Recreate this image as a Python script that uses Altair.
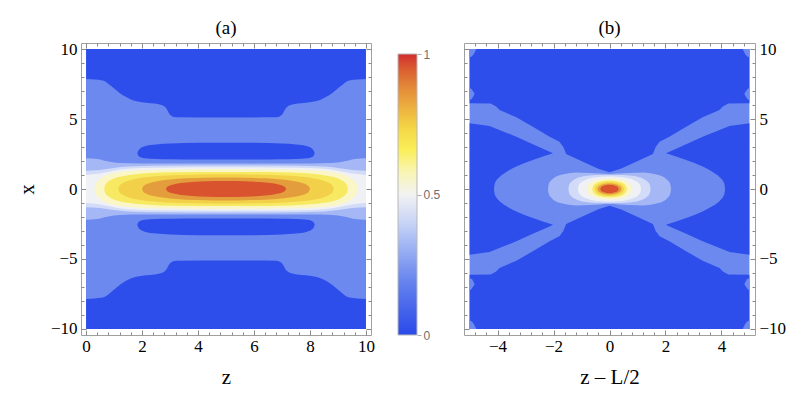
import altair as alt
import pandas as pd

# ---------------- colours of the contour levels 0-0.1, 0.1-0.2, ..., 0.9-1 ----------------
LEVEL_COLORS = ["#2d4eeb", "#6b89ef", "#a5b8f5", "#d2dcf8", "#f0f1f4",
                "#faf6c6", "#f8e962", "#f2d04a", "#e49d3c", "#d9532f"]

# ---------------- panel (a): half profiles for z in [0, 5] (mirrored about z = 5) ----------------
A_L1_Z = [0.0, 0.6, 0.9, 1.2, 1.6, 2.0, 2.6, 2.85, 3.0, 3.2, 5.0]
A_L1_X = [7.85, 7.75, 7.35, 6.85, 6.4, 6.2, 6.05, 5.8, 5.3, 5.12, 5.1]

A_HOLE_Z = [1.83, 1.87, 1.95, 2.1, 2.5, 3.0, 4.0, 5.0]
A_HOLE_TOP = [2.55, 2.75, 2.92, 3.05, 3.18, 3.25, 3.3, 3.31]
A_HOLE_BOT = [2.55, 2.38, 2.27, 2.2, 2.14, 2.12, 2.1, 2.1]

A_LEVELS = {
    2: ([0.0, 0.4, 0.8, 1.2, 2.0, 5.0], [2.2, 2.15, 1.97, 1.86, 1.83, 1.82]),
    3: ([0.0, 0.5, 1.0, 1.5, 2.5, 5.0], [1.3, 1.36, 1.5, 1.6, 1.66, 1.68]),
    4: ([0.0, 0.5, 1.0, 1.5, 2.5, 5.0], [1.0, 1.1, 1.3, 1.44, 1.52, 1.55]),
    5: ([0.3, 0.33, 0.4, 0.5, 0.7, 1.0, 1.5, 2.5, 5.0], [0.0, 0.3, 0.52, 0.72, 0.95, 1.14, 1.28, 1.38, 1.42]),
    6: ([0.65, 0.68, 0.75, 0.88, 1.1, 1.5, 2.2, 3.2, 5.0], [0.0, 0.27, 0.45, 0.64, 0.82, 0.99, 1.12, 1.19, 1.22]),
    7: ([1.15, 1.19, 1.28, 1.45, 1.75, 2.2, 2.9, 3.8, 5.0], [0.0, 0.22, 0.38, 0.55, 0.72, 0.86, 0.96, 1.02, 1.05]),
    8: ([2.0, 2.04, 2.12, 2.3, 2.6, 3.0, 3.6, 4.3, 5.0], [0.0, 0.17, 0.3, 0.45, 0.58, 0.68, 0.76, 0.8, 0.82]),
    9: ([2.85, 2.89, 2.97, 3.12, 3.4, 3.8, 4.3, 5.0], [0.0, 0.13, 0.23, 0.33, 0.43, 0.5, 0.55, 0.57]),
}

# ---------------- panel (b): quadrant profiles for z in [-5, 0] (mirrored in z and x) ----------------
B_TOP_Z = [-5.0, -4.25, -4.05, -3.93, -3.33, -2.74, -2.14, -1.79, -1.65, -1.55, -0.95, -0.4, 0.0]
B_TOP_X = [6.12, 6.1, 5.9, 5.64, 5.12, 4.45, 3.74, 3.38, 3.0, 2.5, 1.95, 1.45, 1.2]

B_WEDGE_Z = [-5.0, -4.29, -3.33, -2.74, -2.14, -2.02]
B_WEDGE_X = [4.69, 4.5, 3.74, 3.2, 2.67, 2.55]

B_LENS_Z = [-4.13, -4.11, -4.06, -3.97, -3.85, -3.69, -3.33, -2.74, -2.02]
B_LENS_X = [0.0, 0.3, 0.55, 0.78, 1.0, 1.22, 1.6, 2.07, 2.55]

B_EDGE_Z = [-5.0, -4.92, -4.82]
B_EDGE_LO = [6.35, 6.45, 6.8]
B_EDGE_HI = [7.25, 7.1, 6.8]

B_CORNER_Z = [-5.0, -4.88, -4.76]
B_CORNER_LO = [9.4, 9.55, 10.0]

B_LEVELS = {
    2: ([-2.2, -2.17, -2.08, -1.92, -1.6, -1.2, -0.7, -0.3, 0.0], [0.0, 0.35, 0.62, 0.88, 1.08, 1.18, 1.15, 1.1, 1.08]),
    3: ([-1.47, -1.44, -1.36, -1.22, -1.0, -0.6, -0.3, 0.0], [0.0, 0.3, 0.52, 0.72, 0.88, 0.98, 1.0, 1.0]),
    4: ([-1.13, -1.1, -1.02, -0.88, -0.6, -0.3, 0.0], [0.0, 0.27, 0.46, 0.63, 0.8, 0.88, 0.9]),
    5: ([-0.8, -0.77, -0.7, -0.58, -0.4, -0.2, 0.0], [0.0, 0.23, 0.4, 0.55, 0.67, 0.73, 0.75]),
    6: ([-0.62, -0.59, -0.53, -0.43, -0.3, -0.15, 0.0], [0.0, 0.2, 0.34, 0.46, 0.54, 0.59, 0.6]),
    7: ([-0.52, -0.49, -0.44, -0.35, -0.23, -0.12, 0.0], [0.0, 0.16, 0.28, 0.38, 0.45, 0.49, 0.5]),
    8: ([-0.43, -0.41, -0.36, -0.28, -0.18, -0.09, 0.0], [0.0, 0.12, 0.22, 0.3, 0.36, 0.39, 0.4]),
    9: ([-0.33, -0.31, -0.27, -0.2, -0.11, 0.0], [0.0, 0.1, 0.18, 0.24, 0.28, 0.3]),
}

# ---------------- ticks ----------------
A_X_MAJOR = [0, 2, 4, 6, 8, 10]
B_X_MAJOR = [-4, -2, 0, 2, 4]
Y_MAJOR = [-10, -5, 0, 5, 10]
A_X_MINOR = [round(0.4 * k, 2) for k in range(0, 26) if k % 5]
B_X_MINOR = [round(0.4 * k, 2) for k in range(-12, 13) if k % 5]
Y_MINOR = [k for k in range(-10, 11) if k % 5]
CB_TICKS = [0, 0.5, 1]

SERIF = "Liberation Serif"
FRAME = "#a0a0a0"
TICK = "#8a8a8a"


def mirror(zs, hs, c):
    z_full = list(zs) + [2 * c - z for z in reversed(zs[:-1])]
    h_full = list(hs) + list(reversed(hs[:-1]))
    return z_full, h_full


def band(z, lo, hi, color, xs, ys, interp="monotone"):
    df = pd.DataFrame({"z": z, "lo": lo, "hi": hi})
    return alt.Chart(df).mark_area(color=color, interpolate=interp, opacity=1).encode(
        x=alt.X("z:Q", scale=xs, axis=None),
        y=alt.Y("lo:Q", scale=ys, axis=None),
        y2="hi:Q",
    )


def axis_layers(xs, ys, xmaj, xmin, ymaj, ymin, xtitle, ytitle, ylabel_side):
    df = pd.DataFrame({"z": [xs.domain[0]], "lo": [0.0]})

    def ax(orient, values, size, labels, title=None):
        kw = dict(orient=orient, values=values, offset=-size, tickSize=size,
                  domain=False, grid=False, labels=labels, tickColor=TICK)
        if labels:
            kw.update(labelPadding=3 if orient in ("bottom", "top") else 4,
                      labelFont=SERIF, labelFontSize=17, labelColor="black")
        if title:
            kw.update(title=title, titleFont=SERIF, titleFontSize=21,
                      titleFontWeight="normal", titleColor="black",
                      titlePadding=12 if orient in ("bottom", "top") else 13)
        return alt.Axis(**kw)

    layers = []
    specs = [
        ("bottom", xmaj, 5, True, xtitle, "left", ymaj, 5, ylabel_side == "left", ytitle if ylabel_side == "left" else None),
        ("top", xmaj, 5, False, None, "right", ymaj, 5, ylabel_side == "right", ytitle if ylabel_side == "right" else None),
        ("bottom", xmin, 3, False, None, "left", ymin, 3, False, None),
        ("top", xmin, 3, False, None, "right", ymin, 3, False, None),
    ]
    for xo, xv, xsz, xl, xt, yo, yv, ysz, yl, yt in specs:
        xaxis = ax(xo, xv, xsz, xl, xt)
        yaxis = ax(yo, yv, ysz, yl, yt)
        xenc = alt.X("z:Q", scale=xs, axis=xaxis) if xt else alt.X("z:Q", scale=xs, axis=xaxis, title=None)
        yenc = alt.Y("lo:Q", scale=ys, axis=yaxis) if yt else alt.Y("lo:Q", scale=ys, axis=yaxis, title=None)
        layers.append(alt.Chart(df).mark_point(opacity=0).encode(x=xenc, y=yenc))
    return layers


Y_SCALE_DOMAIN = [-10.43, 10.43]

# ================= panel (a) =================
xs_a = alt.Scale(domain=[-0.18, 10.18], nice=False, zero=False)
ys_a = alt.Scale(domain=Y_SCALE_DOMAIN, nice=False, zero=False)

la = []
la.append(band([0, 10], [-10, -10], [10, 10], LEVEL_COLORS[0], xs_a, ys_a, "linear"))
z1, h1 = mirror(A_L1_Z, A_L1_X, 5.0)
la.append(band(z1, [-h for h in h1], h1, LEVEL_COLORS[1], xs_a, ys_a))
ez, et = mirror(A_HOLE_Z, A_HOLE_TOP, 5.0)
_, eb = mirror(A_HOLE_Z, A_HOLE_BOT, 5.0)
la.append(band(ez, eb, et, LEVEL_COLORS[0], xs_a, ys_a))
la.append(band(ez, [-t for t in et], [-b for b in eb], LEVEL_COLORS[0], xs_a, ys_a))
for lev in range(2, 10):
    zz, hh = mirror(*A_LEVELS[lev], 5.0)
    la.append(band(zz, [-h for h in hh], hh, LEVEL_COLORS[lev], xs_a, ys_a))
la += axis_layers(xs_a, ys_a, A_X_MAJOR, A_X_MINOR, Y_MAJOR, Y_MINOR, "z", "x", "left")

panel_a = alt.layer(*la).resolve_axis(x="independent", y="independent").properties(
    width=290, height=292, title="(a)")

# ================= colour bar =================
CB_STOPS = [(0.0, "#2a4aea"), (0.1, "#4867ec"), (0.2, "#6a87ef"), (0.3, "#98aef3"),
            (0.4, "#c8d4f6"), (0.5, "#f2f2f2"), (0.58, "#f9f5b4"), (0.66, "#f9ee58"),
            (0.73, "#f5d947"), (0.8, "#eeb540"), (0.88, "#e38a38"), (0.95, "#da5a31"),
            (1.0, "#d22d2d")]
cb_df = pd.DataFrame({"lo": [0.0], "hi": [1.0]})
colorbar = alt.Chart(cb_df).mark_rect(
    fill=alt.Gradient(gradient="linear",
                      stops=[alt.GradientStop(offset=o, color=c) for o, c in CB_STOPS],
                      x1=0, x2=0, y1=1, y2=0),
    stroke="#b8b8b8", strokeWidth=1,
).encode(
    x=alt.value(0), x2=alt.value(19),
    y=alt.Y("lo:Q", scale=alt.Scale(domain=[0, 292 / 281], nice=False, zero=False),
            axis=alt.Axis(orient="right", values=CB_TICKS, format="~g", domain=False, grid=False,
                          tickSize=4, tickColor="#aaaaaa", labelPadding=2,
                          labelFont="Liberation Sans", labelFontSize=12, labelColor="#6f6f6f"),
            title=None),
    y2="hi:Q",
).properties(width=19, height=292, view=alt.ViewBackground(stroke="transparent"))

# ================= panel (b) =================
xs_b = alt.Scale(domain=[-5.2, 5.2], nice=False, zero=False)
ys_b = alt.Scale(domain=Y_SCALE_DOMAIN, nice=False, zero=False)

lb = []
lb.append(band([-5, 5], [-10, -10], [10, 10], LEVEL_COLORS[1], xs_b, ys_b, "linear"))
tz, tx = mirror(B_TOP_Z, B_TOP_X, 0.0)
lb.append(band(tz, tx, [10] * len(tz), LEVEL_COLORS[0], xs_b, ys_b, "linear"))
lb.append(band(tz, [-10] * len(tz), [-t for t in tx], LEVEL_COLORS[0], xs_b, ys_b, "linear"))
for sgn in (1, -1):
    wz = [sgn * z for z in B_WEDGE_Z]
    lb.append(band(wz, [-w for w in B_WEDGE_X], B_WEDGE_X, LEVEL_COLORS[0], xs_b, ys_b, "linear"))
    lz = [sgn * z for z in B_LENS_Z]
    lb.append(band(lz, [-w for w in B_LENS_X], B_LENS_X, LEVEL_COLORS[1], xs_b, ys_b))
    ez_ = [sgn * z for z in B_EDGE_Z]
    lb.append(band(ez_, B_EDGE_LO, B_EDGE_HI, LEVEL_COLORS[1], xs_b, ys_b))
    lb.append(band(ez_, [-h for h in B_EDGE_HI], [-l for l in B_EDGE_LO], LEVEL_COLORS[1], xs_b, ys_b))
    cz = [sgn * z for z in B_CORNER_Z]
    lb.append(band(cz, B_CORNER_LO, [10] * 3, LEVEL_COLORS[1], xs_b, ys_b))
    lb.append(band(cz, [-10] * 3, [-l for l in B_CORNER_LO], LEVEL_COLORS[1], xs_b, ys_b))
for lev in range(2, 10):
    zz, hh = mirror(*B_LEVELS[lev], 0.0)
    lb.append(band(zz, [-h for h in hh], hh, LEVEL_COLORS[lev], xs_b, ys_b))
lb += axis_layers(xs_b, ys_b, B_X_MAJOR, B_X_MINOR, Y_MAJOR, Y_MINOR, "z \u2013 L/2", None, "right")

panel_b = alt.layer(*lb).resolve_axis(x="independent", y="independent").properties(
    width=291, height=292, title="(b)")

left_pair = alt.hconcat(panel_a, colorbar, spacing=22)
chart = alt.hconcat(left_pair, panel_b, spacing=19).properties(
    padding={"left": 7, "top": 10, "right": 5, "bottom": 5}
).configure_axis(
    labelFont=SERIF, titleFont=SERIF, labelFontSize=17, titleFontSize=21,
    titleFontWeight="normal", labelColor="black", titleColor="black",
).configure_view(
    stroke=FRAME, strokeWidth=1,
).configure_title(
    font=SERIF, fontSize=19, fontWeight="normal", color="black", anchor="middle", offset=2,
)

chart.save("out.html", embed_options={"renderer": "svg", "actions": False})
